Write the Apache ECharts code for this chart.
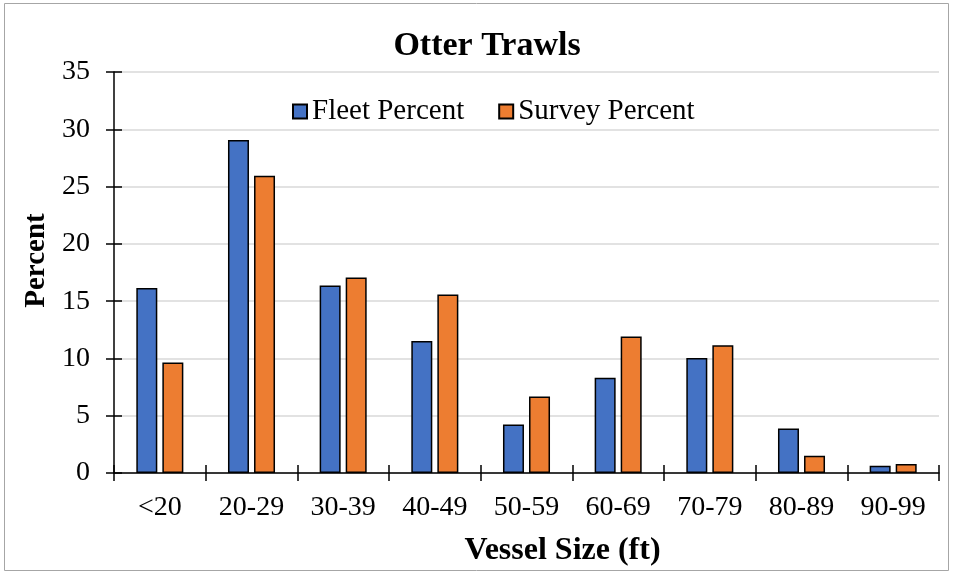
<!DOCTYPE html>
<html><head><meta charset="utf-8">
<script src="https://cdn.jsdelivr.net/npm/echarts@6/dist/echarts.min.js"></script>
<style>html,body{margin:0;padding:0;background:#fff}#c{width:953px;height:575px}</style>
</head><body><div id="c"></div>
<script>
const categories = ['<20','20-29','30-39','40-49','50-59','60-69','70-79','80-89','90-99'];
const fleetPercent = [16.15, 29.06, 16.36, 11.53, 4.24, 8.31, 10.03, 3.89, 0.64];
const surveyPercent = [9.65, 25.95, 17.06, 15.57, 6.68, 11.91, 11.16, 1.51, 0.79];
const yTicks = {min: 0, max: 35, interval: 5};

const font = 'Liberation Serif, Times New Roman, serif';
const chart = echarts.init(document.getElementById('c'), null, {renderer: 'canvas'});
chart.setOption({
  animation: false,
  backgroundColor: '#fff',
  graphic: [{type: 'rect', shape: {x: 4.5, y: 3.5, width: 944, height: 567}, style: {fill: 'none', stroke: '#a6a6a6', lineWidth: 1}, z: -1}],
  title: {text: 'Otter Trawls', left: 482, top: 24, textAlign: 'center',
    textStyle: {fontFamily: font, fontSize: 34, fontWeight: 'bold', color: '#000'}},
  legend: {left: 287, top: 92, itemWidth: 14, itemHeight: 14, itemGap: 34, icon: 'rect',
    textStyle: {fontFamily: font, fontSize: 29, color: '#000'},
    data: ['Fleet Percent', 'Survey Percent']},
  grid: {left: 114, right: 14, top: 72, bottom: 102, containLabel: false},
  xAxis: [{type: 'category', data: categories, position: 'bottom',
    axisLine: {lineStyle: {color: '#000', width: 1.5}},
    axisTick: {show: true, inside: false, length: 8, lineStyle: {color: '#000', width: 1.5}},
    axisLabel: {fontFamily: font, fontSize: 28, color: '#000', margin: 21},
    name: 'Vessel Size (ft)', nameLocation: 'middle', nameGap: 62,
    nameTextStyle: {fontFamily: font, fontSize: 32, fontWeight: 'bold', color: '#000', padding: [0, 0, 0, 72]}},
   {type: 'category', data: categories, position: 'bottom',
    axisLine: {show: false}, axisLabel: {show: false},
    axisTick: {show: true, inside: true, length: 8, lineStyle: {color: '#000', width: 1.5}}}],
  yAxis: [{type: 'value', min: yTicks.min, max: yTicks.max, interval: yTicks.interval, position: 'left',
    axisLine: {show: true, lineStyle: {color: '#000', width: 1.5}},
    axisTick: {show: true, inside: false, length: 8, lineStyle: {color: '#000', width: 1.5}},
    axisLabel: {fontFamily: font, fontSize: 28, color: '#000', margin: 24},
    splitLine: {lineStyle: {color: '#d9d9d9', width: 1.5}},
    name: 'Percent', nameLocation: 'middle', nameGap: 58, nameRotate: 90,
    nameTextStyle: {fontFamily: font, fontSize: 29, fontWeight: 'bold', color: '#000', padding: [0, 0, 0, 24]}},
   {type: 'value', min: yTicks.min, max: yTicks.max, interval: yTicks.interval, position: 'left',
    axisLine: {show: false}, axisLabel: {show: false}, splitLine: {show: false},
    axisTick: {show: true, inside: true, length: 8, lineStyle: {color: '#000', width: 1.5}}}],
  series: [
    {name: 'Fleet Percent', type: 'bar', data: fleetPercent, barWidth: 21, barGap: '24%',
     itemStyle: {color: '#4472c4', borderColor: '#000', borderWidth: 1.5}},
    {name: 'Survey Percent', type: 'bar', data: surveyPercent, barWidth: 21, barGap: '24%',
     itemStyle: {color: '#ed7d31', borderColor: '#000', borderWidth: 1.5}}
  ]
});
</script></body></html>
